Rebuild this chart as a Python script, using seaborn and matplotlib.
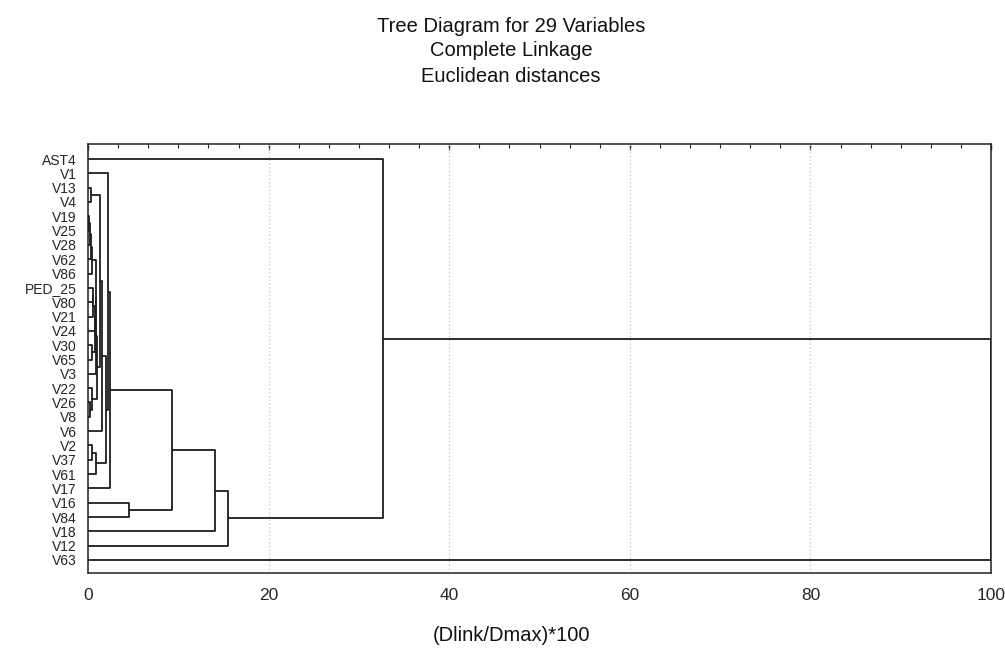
import numpy as np
import pandas as pd
import matplotlib
matplotlib.use("Agg")
import matplotlib.pyplot as plt
from matplotlib.ticker import MultipleLocator
import seaborn as sns

# ---------------- data ----------------
leaves = ["AST4", "V1", "V13", "V4", "V19", "V25", "V28", "V62", "V86", "PED_25",
          "V80", "V21", "V24", "V30", "V65", "V3", "V22", "V26", "V8", "V6",
          "V2", "V37", "V61", "V17", "V16", "V84", "V18", "V12", "V63"]

# linkage: cluster id = 29 + merge index ; children are leaf indices or cluster ids
merge_left = [4, 29, 30, 31, 9, 33, 34, 13, 35, 32, 38, 17, 16, 39,
              2, 43, 44, 20, 46, 45, 1, 49, 24, 50, 52, 53, 0, 55]
merge_right = [5, 6, 7, 8, 10, 11, 12, 14, 36, 37, 15, 18, 40, 41,
               3, 42, 19, 21, 22, 47, 48, 23, 25, 51, 26, 27, 54, 28]
merge_height = [0.10, 0.20, 0.30, 0.45, 0.50, 0.60, 0.75, 0.40, 0.80, 0.85,
                0.90, 0.25, 0.42, 0.96, 0.35, 1.36, 1.60, 0.40, 0.90, 2.00,
                2.18, 2.40, 4.57, 9.30, 14.06, 15.50, 32.70, 100.0]

x_ticks = [0, 20, 40, 60, 80, 100]
title_lines = ["Tree Diagram for 29 Variables", "Complete Linkage", "Euclidean distances"]
x_label = "(Dlink/Dmax)*100"

# ---------------- build dendrogram segments ----------------
n = len(leaves)
pos = {i: float(i) for i in range(n)}
hgt = {i: 0.0 for i in range(n)}
rows = []
for k, (a, b, h) in enumerate(zip(merge_left, merge_right, merge_height)):
    cid = n + k
    pts = [(hgt[a], pos[a]), (h, pos[a]), (h, pos[b]), (hgt[b], pos[b])]
    for j, (xx, yy) in enumerate(pts):
        rows.append({"seg": k, "order": j, "x": xx, "y": yy})
    pos[cid] = (pos[a] + pos[b]) / 2.0
    hgt[cid] = h
seg_df = pd.DataFrame(rows)

# ---------------- figure ----------------
sns.set_style("white")
plt.rcParams["font.family"] = ["Liberation Sans", "DejaVu Sans"]

W, H = 1005, 656
fig = plt.figure(figsize=(W / 100, H / 100), dpi=100)
fig.patch.set_facecolor("white")
ax_l, ax_r, ax_t, ax_b = 88, 991, 144, 573
ax = fig.add_axes([ax_l / W, 1 - ax_b / H, (ax_r - ax_l) / W, (ax_b - ax_t) / H])
ax.set_facecolor("white")

sns.lineplot(data=seg_df, x="x", y="y", units="seg", estimator=None, sort=False,
             color="#1e1e1e", linewidth=1.3, legend=False, ax=ax, zorder=3)

ax.set_xlim(0, 100)
ax.set_ylim(28.91, -1.05)

# grid
ax.xaxis.grid(True, which="major", linestyle=(0, (1, 2)), color="#c8c8c8", linewidth=0.9)
ax.yaxis.grid(False)
ax.set_axisbelow(True)

# x ticks (bottom)
ax.set_xticks(x_ticks)
ax.set_xticklabels([str(t) for t in x_ticks], fontsize=12.5)
ax.xaxis.set_minor_locator(MultipleLocator(4))
ax.tick_params(axis="x", which="major", direction="in", length=5, width=1, color="#222222", pad=11)
ax.tick_params(axis="x", which="minor", direction="in", length=3, width=0.8, color="#222222")

# top ticks
sec = ax.secondary_xaxis("top")
sec.xaxis.set_major_locator(MultipleLocator(20))
sec.xaxis.set_minor_locator(MultipleLocator(20 / 6))
sec.tick_params(axis="x", which="major", direction="in", length=4, width=1, color="#222222", labeltop=False)
sec.tick_params(axis="x", which="minor", direction="in", length=3, width=0.8, color="#222222")
sec.spines["top"].set_visible(False)

# y leaf labels
ax.set_yticks(range(n))
ax.set_yticklabels(leaves, fontsize=10)
ax.tick_params(axis="y", which="both", length=0, pad=8)
ax.set_xlabel("")
ax.set_ylabel("")

for s in ax.spines.values():
    s.set_visible(True)
    s.set_color("#222222")
    s.set_linewidth(1.1)

# titles and axis label
for txt, base in zip(title_lines, [32, 56, 81.5]):
    fig.text(511 / W, 1 - base / H, txt, ha="center", va="baseline", fontsize=14.5, color="#111111")
fig.text(512 / W, 1 - 641 / H, x_label, ha="center", va="baseline", fontsize=14.5, color="#111111")

fig.savefig("out.png", dpi=100, facecolor="white")
